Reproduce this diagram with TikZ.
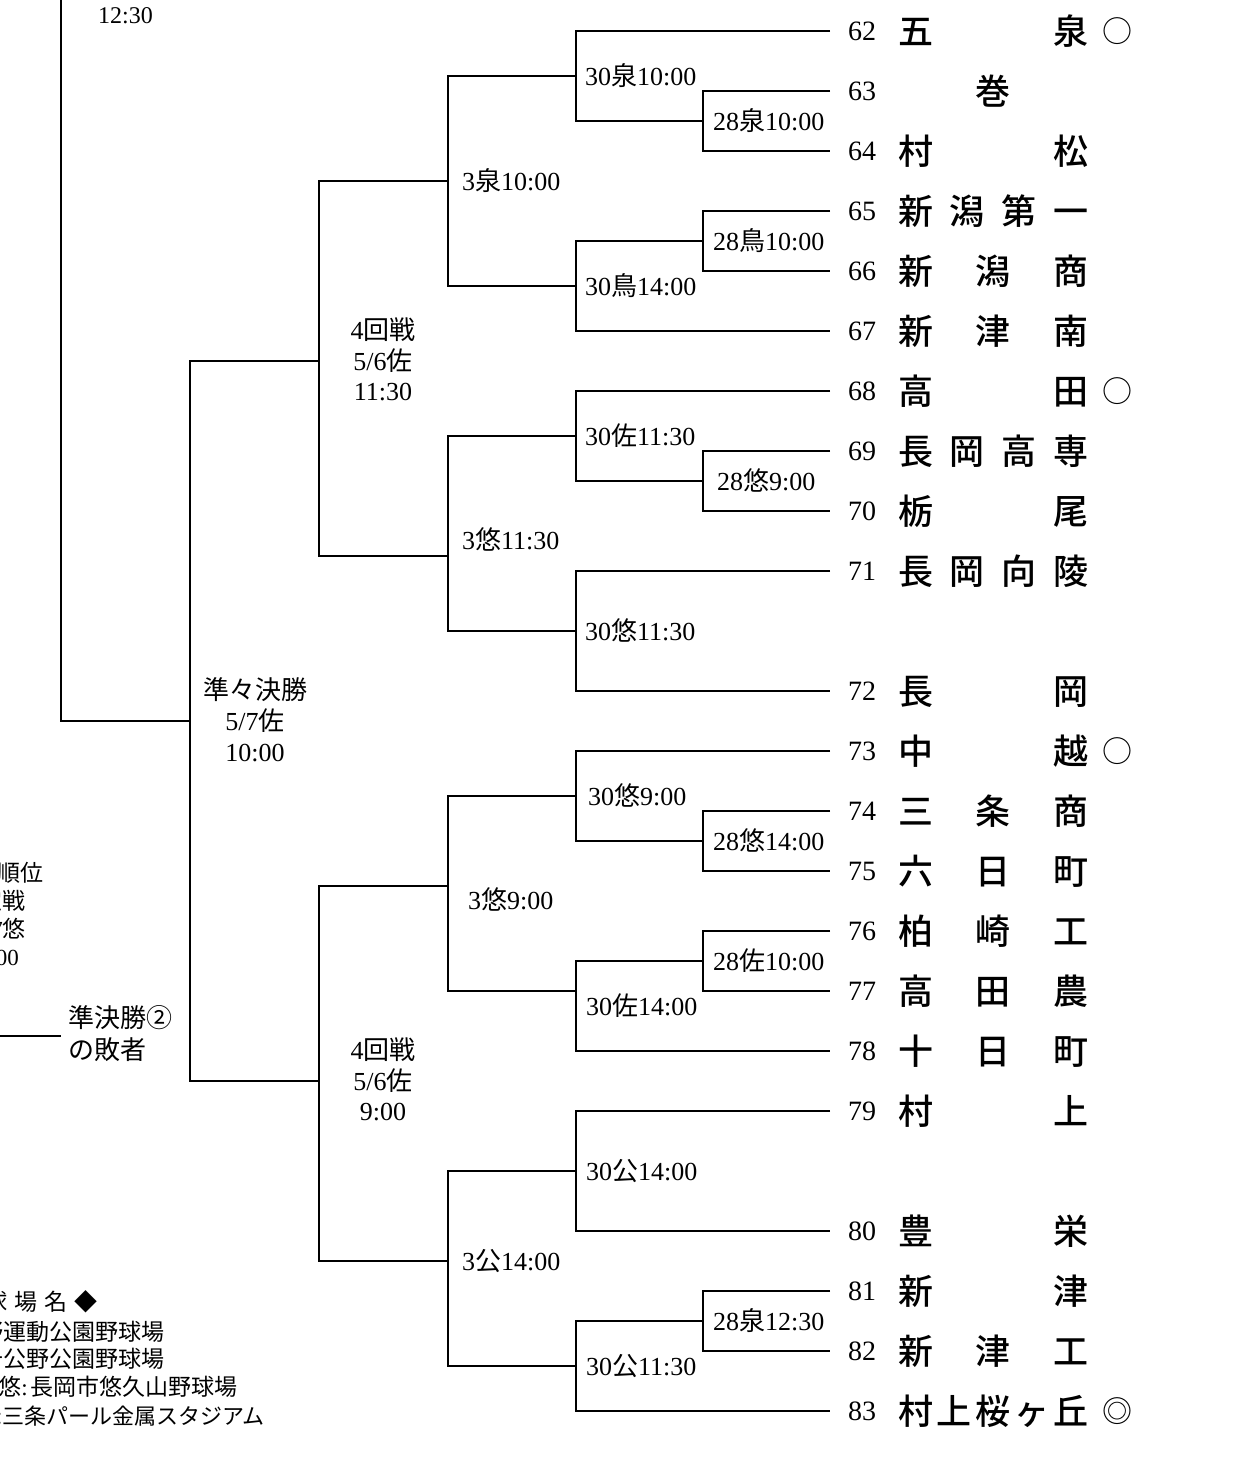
\documentclass[tikz,border=0pt]{standalone}
\usepackage{fontspec}
\setmainfont{Liberation Serif}
\newfontfamily\cjk{Noto Sans CJK JP}
\newfontfamily\cjkm{Noto Sans CJK JP Medium}
\newcommand\lb[3]{#1{\cjk #2}#3}
\newcommand\tn[1]{\hbox to 190pt{\cjkm #1}}
\begin{document}
\begin{tikzpicture}[x=1pt,y=-1pt,
  br/.style={line width=2.6pt},
  lab/.style={font=\fontsize{26}{30}\selectfont, inner sep=0pt, text height=20pt, text depth=1.5pt},
  labw/.style={lab, anchor=west},
  num/.style={font=\fontsize{28}{32}\selectfont, inner sep=0pt, text height=20pt, text depth=1pt},
  nm/.style={font=\fontsize{35}{40}\selectfont, inner sep=0pt, anchor=west, text height=28pt, text depth=1.4pt},
  mk/.style={font=\fontsize{30}{34}\selectfont\cjk, inner sep=0pt, text height=24pt, text depth=1pt},
  lg/.style={font=\fontsize{23}{27}\selectfont, inner sep=0pt, anchor=east, text height=18pt, text depth=1.5pt}
]
\useasboundingbox (0,0) rectangle (1240,1464);
\clip (0,0) rectangle (1240,1464);

\newcommand\team[3]{\node[num] (n#1) at (862,#2) {#1};
  \node[nm] (s#1) at (898,#2) {\tn{#3}};
  \coordinate (t#1) at (830,#2);}
\newcommand\mt[3]{\draw[br] (#2) -- (#2 -| #1) -- (#3 -| #1) -- (#3);}

% teams
\team{62}{31}{五\hfill 泉}
\team{63}{91}{\hfill 巻\hfill}
\team{64}{151}{村\hfill 松}
\team{65}{211}{新\hfill 潟\hfill 第\hfill 一}
\team{66}{271}{新\hfill 潟\hfill 商}
\team{67}{331}{新\hfill 津\hfill 南}
\team{68}{391}{高\hfill 田}
\team{69}{451}{長\hfill 岡\hfill 高\hfill 専}
\team{70}{511}{栃\hfill 尾}
\team{71}{571}{長\hfill 岡\hfill 向\hfill 陵}
\team{72}{691}{長\hfill 岡}
\team{73}{751}{中\hfill 越}
\team{74}{811}{三\hfill 条\hfill 商}
\team{75}{871}{六\hfill 日\hfill 町}
\team{76}{931}{柏\hfill 崎\hfill 工}
\team{77}{991}{高\hfill 田\hfill 農}
\team{78}{1051}{十\hfill 日\hfill 町}
\team{79}{1111}{村\hfill 上}
\team{80}{1231}{豊\hfill 栄}
\team{81}{1291}{新\hfill 津}
\team{82}{1351}{新\hfill 津\hfill 工}
\team{83}{1411}{村\hfill 上\hfill 桜\hfill ヶ\hfill 丘}

\node[mk] (c62) at (1117,31) {○};
\node[mk] (c68) at (1117,391) {○};
\node[mk] (c73) at (1117,751) {○};
\node[mk] (c83) at (1117,1411) {◎};

% match output points
\coordinate (A1) at (703,121);
\coordinate (A2) at (576,76);
\coordinate (A3) at (703,241);
\coordinate (A4) at (576,286);
\coordinate (A5) at (448,181);
\coordinate (A6) at (703,481);
\coordinate (A7) at (576,436);
\coordinate (A8) at (576,631);
\coordinate (A9) at (448,556);
\coordinate (A10) at (319,361);
\coordinate (B1) at (703,841);
\coordinate (B2) at (576,796);
\coordinate (B3) at (703,961);
\coordinate (B4) at (576,991);
\coordinate (B5) at (448,886);
\coordinate (B6) at (576,1171);
\coordinate (B7) at (703,1321);
\coordinate (B8) at (576,1366);
\coordinate (B9) at (448,1261);
\coordinate (B10) at (319,1081);
\coordinate (QF) at (190,721);
\coordinate (LT) at (61,-5);
\coordinate (LA) at (-5,1036);
\coordinate (LB) at (61,1036);

\mt{A1}{t63}{t64}
\mt{A2}{t62}{A1}
\mt{A3}{t65}{t66}
\mt{A4}{A3}{t67}
\mt{A5}{A2}{A4}
\mt{A6}{t69}{t70}
\mt{A7}{t68}{A6}
\mt{A8}{t71}{t72}
\mt{A9}{A7}{A8}
\mt{A10}{A5}{A9}
\mt{B1}{t74}{t75}
\mt{B2}{t73}{B1}
\mt{B3}{t76}{t77}
\mt{B4}{B3}{t78}
\mt{B5}{B2}{B4}
\mt{B6}{t79}{t80}
\mt{B7}{t81}{t82}
\mt{B8}{B7}{t83}
\mt{B9}{B6}{B8}
\mt{B10}{B5}{B9}
\mt{QF}{A10}{B10}
\draw[br] (LT) -- (LT |- QF) -- (QF);
\draw[br] (LA) -- (LB);

% match labels
\node[labw] (lA1) at (713,121) {\lb{28}{泉}{10:00}};
\node[labw] (lA2) at (585,76) {\lb{30}{泉}{10:00}};
\node[labw] (lA3) at (713,241) {\lb{28}{鳥}{10:00}};
\node[labw] (lA4) at (585,286) {\lb{30}{鳥}{14:00}};
\node[labw] (lA5) at (462,181) {\lb{3}{泉}{10:00}};
\node[labw] (lA6) at (717,481) {\lb{28}{悠}{9:00}};
\node[labw] (lA7) at (585,436) {\lb{30}{佐}{11:30}};
\node[labw] (lA8) at (585,631) {\lb{30}{悠}{11:30}};
\node[labw] (lA9) at (462,540) {\lb{3}{悠}{11:30}};
\node[lab] (lA10a) at (383,330) {4{\cjk 回戦}};
\node[lab] (lA10b) at (383,361) {5/6{\cjk 佐}};
\node[lab] (lA10c) at (383,391) {11:30};
\node[labw] (lB1) at (713,841) {\lb{28}{悠}{14:00}};
\node[labw] (lB2) at (588,796) {\lb{30}{悠}{9:00}};
\node[labw] (lB3) at (713,961) {\lb{28}{佐}{10:00}};
\node[labw] (lB4) at (586,1006) {\lb{30}{佐}{14:00}};
\node[labw] (lB5) at (468,900) {\lb{3}{悠}{9:00}};
\node[labw] (lB6) at (586,1171) {\lb{30}{公}{14:00}};
\node[labw] (lB7) at (713,1321) {\lb{28}{泉}{12:30}};
\node[labw] (lB8) at (586,1366) {\lb{30}{公}{11:30}};
\node[labw] (lB9) at (462,1261) {\lb{3}{公}{14:00}};
\node[lab] (lB10a) at (383,1050) {4{\cjk 回戦}};
\node[lab] (lB10b) at (383,1081) {5/6{\cjk 佐}};
\node[lab] (lB10c) at (383,1111) {9:00};
\node[lab] (lQa) at (255,690) {{\cjk 準々決勝}};
\node[lab] (lQb) at (255,721) {5/7{\cjk 佐}};
\node[lab] (lQc) at (255,752) {10:00};
\node[labw, font=\fontsize{24}{28}\selectfont] (ltop) at (98,14) {12:30};
\node[labw] (lsf1) at (68,1018) {{\cjk 準決勝②}};
\node[labw] (lsf2) at (68,1050) {{\cjk の敗者}};

% left fragments (cut at the picture's edge, as in the reference)
\node[lg] (f1) at (44,873) {{\cjk 代表順位}};
\node[lg] (f2) at (26,901) {{\cjk 決定戦}};
\node[lg] (f3) at (26,929) {5/7{\cjk 悠}};
\node[lg] (f4) at (19,957) {9:00};

% legend
\node[lg] (g0) at (98,1302) {{\cjk ◆\hspace{7pt}球\hspace{7pt}場\hspace{7pt}名\hspace{7pt}◆}};
\node[lg] (g1) at (165,1332) {{\cjk 鳥:鳥屋野運動公園野球場}};
\node[lg] (g2) at (165,1359) {{\cjk 公:五十公野公園野球場}};
\node[lg] (g3) at (238,1387) {{\cjk 悠}:\hspace{3pt}{\cjk 長岡市悠久山野球場}};
\node[lg, font=\fontsize{22}{26}\selectfont] (g4) at (265,1416) {{\cjk 泉:三条パール金属スタジアム}};
\end{tikzpicture}
\end{document}
